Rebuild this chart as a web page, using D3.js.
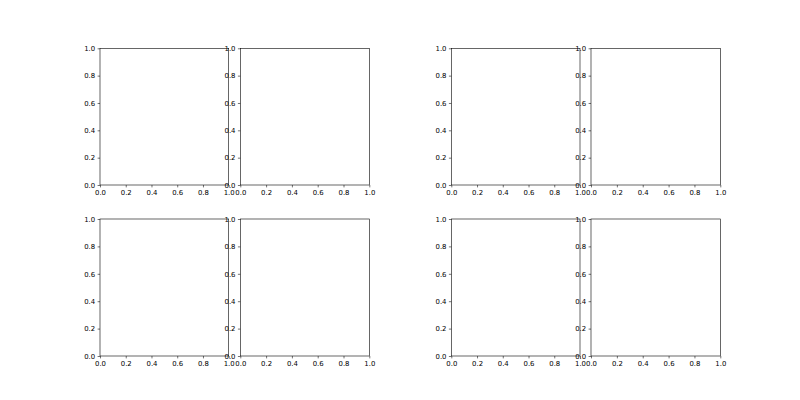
<!DOCTYPE html>
<html>
<head>
<meta charset="utf-8">
<script src="https://cdn.jsdelivr.net/npm/d3@7"></script>
<style>
html,body{margin:0;padding:0;background:#fff;}
svg{display:block;}
</style>
</head>
<body>
<div id="chart"></div>
<script>
// Data: each panel is an empty axes on [0,1] x [0,1]
const xDomain = [0, 1];
const yDomain = [0, 1];
const xTickValues = [0, 0.2, 0.4, 0.6, 0.8, 1.0];
const yTickValues = [0, 0.2, 0.4, 0.6, 0.8, 1.0];
const panelColumns = [[100, 228.7], [240.3, 369.3], [451.3, 580], [591, 720.3]];
const panelRows = [[48.3, 185], [219, 356]];

const W = 800, H = 400;
const svg = d3.select("#chart").append("svg")
  .attr("width", W).attr("height", H)
  .style("font-family", "DejaVu Sans");

const fmt = d3.format(".1f");
const tickLen = 2.4, pad = 2.4, fontSize = 6.9;

panelRows.forEach(([top, bottom]) => {
  panelColumns.forEach(([left, right]) => {
    const x = d3.scaleLinear().domain(xDomain).range([left, right]);
    const y = d3.scaleLinear().domain(yDomain).range([bottom, top]);
    const g = svg.append("g");

    const xAxis = d3.axisBottom(x).tickValues(xTickValues).tickFormat(fmt)
      .tickSize(tickLen).tickPadding(pad);
    const yAxis = d3.axisLeft(y).tickValues(yTickValues).tickFormat(fmt)
      .tickSize(tickLen).tickPadding(pad);

    const gx = g.append("g").attr("transform", `translate(0,${bottom})`).call(xAxis);
    const gy = g.append("g").attr("transform", `translate(${left},0)`).call(yAxis);
    [gx, gy].forEach(a => {
      a.select(".domain").remove();
      a.selectAll(".tick line").attr("stroke", "#000").attr("stroke-width", 0.55);
      a.selectAll(".tick text").attr("fill", "#000").style("font-size", fontSize + "px")
        .style("font-family", "DejaVu Sans");
    });

    // frame (spines)
    g.append("rect")
      .attr("x", x(xDomain[0])).attr("y", y(yDomain[1]))
      .attr("width", x(xDomain[1]) - x(xDomain[0]))
      .attr("height", y(yDomain[0]) - y(yDomain[1]))
      .attr("fill", "none").attr("stroke", "#000").attr("stroke-width", 0.6);
  });
});
</script>
</body>
</html>
